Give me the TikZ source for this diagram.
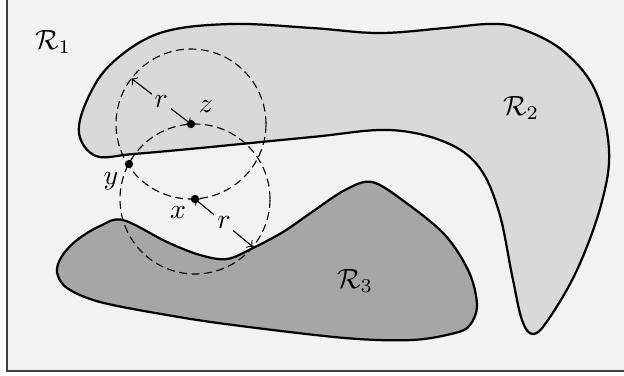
\documentclass[tikz,border=0pt]{standalone}
\begin{document}
\begin{tikzpicture}[x=0.36pt,y=-0.36pt,
  region/.style={draw=black,line width=0.8pt},
  ball/.style={dash pattern=on 2.9pt off 1.6pt,line width=0.4pt},
  radius arrow/.style={<->,>=to,line width=0.4pt},
  dot/.style={fill=black}]
\definecolor{bg}{HTML}{F2F2F2}
\definecolor{light}{HTML}{D9D9D9}
\definecolor{dark}{HTML}{A6A6A6}
\useasboundingbox (0,0) rectangle (624,375);
\fill[white] (0,0) rectangle (624,375);
\fill[bg] (7,-5) rectangle (630,371);
\draw[black!75,line width=0.6pt] (7,-5) -- (7,371) -- (630,371);
% region R2 (light)
\draw[region,fill=light] plot[smooth cycle,tension=0.6] coordinates {
 (79,133) (88,98) (112,63) (160,33) (230,24) (312,28) (379,33) (445,28)
 (489,24) (519,28) (562,50) (595,90) (609,150) (601,205) (577,270)
 (548,320) (533,334) (522,320) (512,275) (499,212) (479,167) (445,142)
 (389,130) (312,137) (200,148) (133,154) (96,156)};
% region R3 (dark)
\draw[region,fill=dark] plot[smooth cycle,tension=0.55] coordinates {
 (77,240) (100,226) (123,220) (167,242) (200,255) (227,259) (253,248)
 (283,232) (312,212) (345,190) (372,182) (405,202) (445,235) (469,272)
 (477,305) (470,325) (455,333) (412,340) (345,338) (233,325) (167,315)
 (100,302) (67,288) (57,272) (62,256)};
\node (r1) at (53,42) {$\mathcal{R}_1$};
\node (r2) at (521,108) {$\mathcal{R}_2$};
\node (r3) at (355,281) {$\mathcal{R}_3$};
% points
\coordinate (z) at (191,124);
\coordinate (x) at (195,199);
\coordinate (y) at (129,164);
\coordinate (pz) at (131.4,78.5);
\coordinate (px) at (252.8,246.8);
\draw[ball] (z) circle[radius=27pt];
\draw[ball] (x) circle[radius=27pt];
\draw[radius arrow] (z) -- node[fill=light,inner sep=1pt] {$r$} (pz);
\draw[radius arrow] (x) -- node[fill=bg,inner sep=1pt] {$r$} (px);
\fill[dot] (z) circle[radius=1.5pt];
\fill[dot] (x) circle[radius=1.5pt];
\fill[dot] (y) circle[radius=1.5pt];
\node (lz) at (206,107) {$z$};
\node (ly) at (111,181) {$y$};
\node (lx) at (178,213) {$x$};
\end{tikzpicture}
\end{document}
